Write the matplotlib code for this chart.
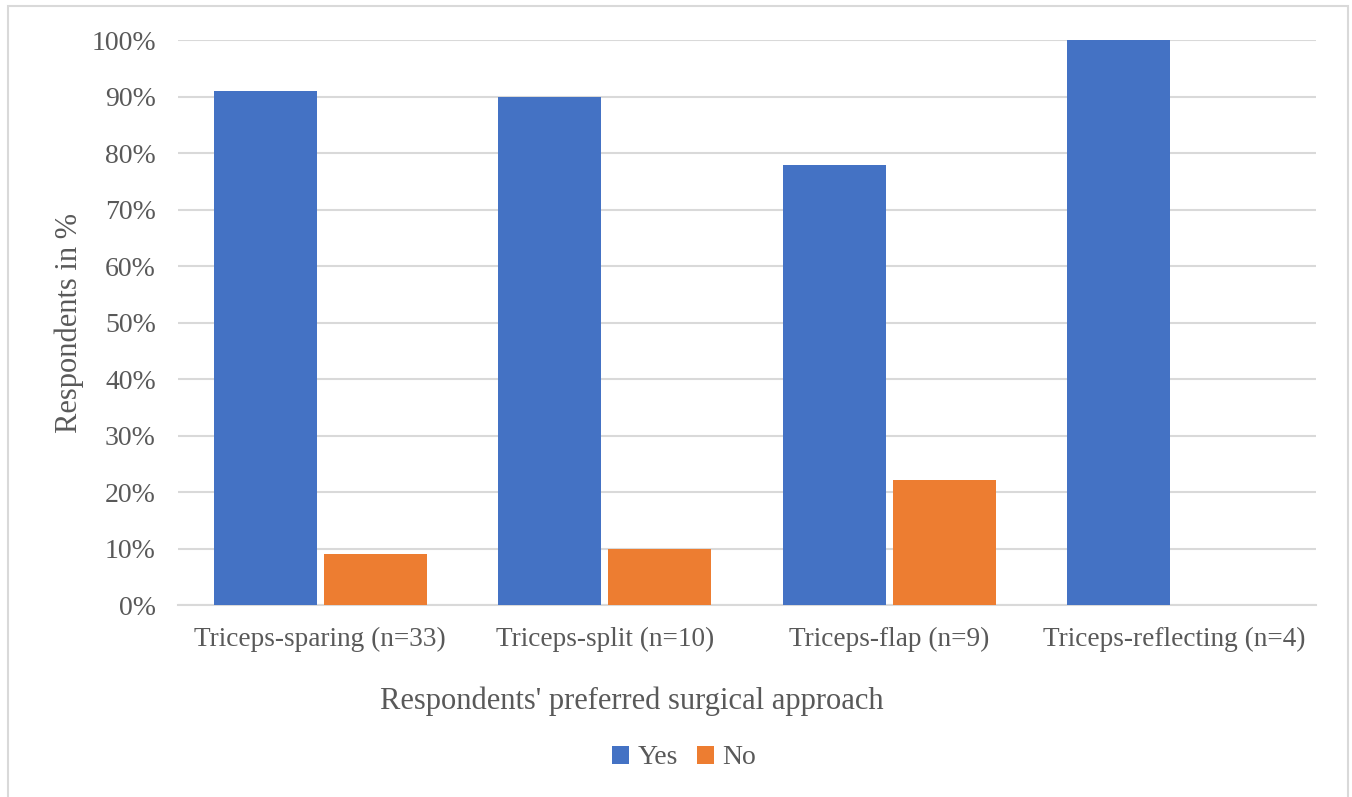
import numpy as np
import matplotlib
matplotlib.use("Agg")
import matplotlib.pyplot as plt
from matplotlib.patches import Rectangle

# data
categories = ["Triceps-sparing (n=33)", "Triceps-split (n=10)",
              "Triceps-flap (n=9)", "Triceps-reflecting (n=4)"]
yes_pct = [90.9, 90.0, 77.8, 100.0]
no_pct = [9.1, 10.0, 22.2, 0.0]

BLUE = "#4472C4"
ORANGE = "#ED7D31"
TXT = "#595959"
GRID = "#D9D9D9"

plt.rcParams['font.family'] = ['Liberation Serif', 'DejaVu Serif']

fig = plt.figure(figsize=(13.52, 7.97), dpi=100)
ax = fig.add_axes([0.1317, 0.2409, 0.9734 - 0.1317, 0.9498 - 0.2409])

x = np.arange(len(categories))
w = 0.362
ax.bar(x - 0.194, yes_pct, w, color=BLUE, label="Yes", zorder=3)
ax.bar(x + 0.194, no_pct, w, color=ORANGE, label="No", zorder=3)

ax.set_xlim(-0.5, len(categories) - 0.5)
ax.set_ylim(0, 100)
ax.set_yticks(np.arange(0, 101, 10))
ax.set_yticklabels(["%d%%" % v for v in range(0, 101, 10)])
ax.set_xticks(x)
ax.set_xticklabels(categories)
ax.tick_params(axis='both', length=0, colors=TXT)
ax.tick_params(axis='y', labelsize=20, pad=16)
ax.tick_params(axis='x', labelsize=19.6, pad=16)
ax.yaxis.grid(True, color=GRID, linewidth=1.5, zorder=0)
for s in ["top", "right", "left"]:
    ax.spines[s].set_visible(False)
ax.spines["bottom"].set_color(GRID)
ax.spines["bottom"].set_linewidth(1.5)

ax.set_ylabel("Respondents in %", fontsize=22, color=TXT, labelpad=5)
# x label sits left of the axis centre in the reference
fig.text(632 / 1352, 1 - 701 / 797, "Respondents' preferred surgical approach",
         fontsize=22, color=TXT, ha="center", va="center")

fig.legend(loc="center", bbox_to_anchor=(684 / 1352, 1 - 758 / 797), ncol=2,
           frameon=False, fontsize=20, labelcolor=TXT, handlelength=0.6,
           handleheight=0.6, columnspacing=0.7, handletextpad=0.3)

fig.patches.append(Rectangle((0.006, -0.01), 0.991, 1.002, transform=fig.transFigure,
                             fill=False, edgecolor=GRID, linewidth=1.5))

fig.savefig("out.png", dpi=100, facecolor="white")
